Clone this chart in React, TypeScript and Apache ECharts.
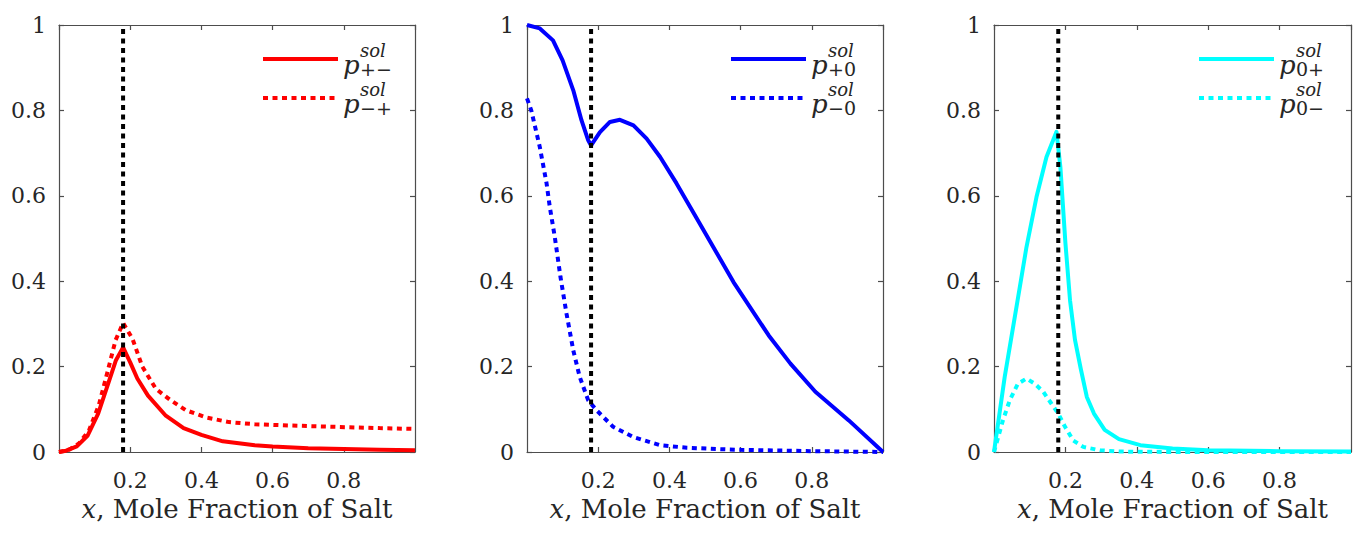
import React, { useEffect, useRef } from "react";
import * as echarts from "echarts";

// ---------- data ----------
const PHASE_X = 0.18;

const redSolidX = [0, 0.02, 0.05, 0.08, 0.11, 0.14, 0.16, 0.18, 0.2, 0.22, 0.25, 0.3, 0.35, 0.4, 0.46, 0.55, 0.6, 0.7, 0.8, 0.9, 1.0];
const redSolidY = [0, 0.003, 0.013, 0.038, 0.09, 0.165, 0.215, 0.245, 0.21, 0.172, 0.132, 0.085, 0.056, 0.04, 0.025, 0.016, 0.013, 0.009, 0.007, 0.005, 0.004];

const redDotX = [0, 0.03, 0.056, 0.084, 0.112, 0.136, 0.159, 0.18, 0.206, 0.234, 0.272, 0.314, 0.356, 0.413, 0.478, 0.55, 0.65, 0.77, 0.9, 1.0];
const redDotY = [0, 0.006, 0.02, 0.05, 0.11, 0.187, 0.262, 0.302, 0.266, 0.2, 0.148, 0.121, 0.098, 0.081, 0.07, 0.065, 0.062, 0.059, 0.056, 0.054];

const blueSolidX = [0, 0.036, 0.073, 0.1, 0.13, 0.153, 0.172, 0.18, 0.205, 0.233, 0.261, 0.299, 0.336, 0.374, 0.42, 0.477, 0.58, 0.679, 0.74, 0.81, 0.904, 1.0];
const blueSolidY = [1.0, 0.992, 0.964, 0.917, 0.847, 0.777, 0.73, 0.718, 0.749, 0.773, 0.778, 0.765, 0.734, 0.691, 0.629, 0.547, 0.398, 0.273, 0.207, 0.141, 0.074, 0.0];

const blueDotX = [0, 0.012, 0.036, 0.055, 0.064, 0.078, 0.094, 0.111, 0.13, 0.148, 0.172, 0.195, 0.242, 0.299, 0.374, 0.449, 0.533, 0.6, 0.8, 1.0];
const blueDotY = [0.828, 0.8, 0.714, 0.629, 0.574, 0.504, 0.41, 0.324, 0.238, 0.176, 0.121, 0.098, 0.059, 0.035, 0.016, 0.01, 0.007, 0.005, 0.002, 0.0];

const cyanSolidX = [0, 0.03, 0.063, 0.091, 0.119, 0.147, 0.175, 0.186, 0.2, 0.213, 0.227, 0.243, 0.26, 0.28, 0.31, 0.35, 0.41, 0.5, 0.6, 0.8, 1.0];
const cyanSolidY = [0, 0.176, 0.34, 0.48, 0.597, 0.691, 0.75, 0.667, 0.49, 0.355, 0.262, 0.195, 0.129, 0.09, 0.052, 0.03, 0.016, 0.008, 0.004, 0.002, 0.001];

const cyanDotX = [0, 0.025, 0.044, 0.067, 0.091, 0.114, 0.138, 0.161, 0.18, 0.199, 0.222, 0.25, 0.297, 0.35, 0.5, 1.0];
const cyanDotY = [0, 0.074, 0.121, 0.16, 0.172, 0.16, 0.141, 0.113, 0.09, 0.059, 0.027, 0.012, 0.004, 0.001, 0, 0];

const panelColors = ["#ff0000", "#0000ff", "#00ffff"];
const solidSubs = ["+\u2212", "+0", "0+"];
const dotSubs = ["\u2212+", "\u22120", "0\u2212"];
const xTitleRest = ", Mole Fraction of Salt";

// ---------- layout / style ----------
const FONT = "DejaVu Serif";
const TXT = "#262626";
const AX = "#4d4d4d";
const grids = [
  { left: 59, top: 25, width: 356, height: 427 },
  { left: 527, top: 25, width: 356, height: 427 },
  { left: 994, top: 25, width: 357, height: 427 },
];
const DOT = [5, 4.5];

const pairs = (xs: number[], ys: number[]) => xs.map((x, i) => [x, ys[i]]);

export default function App() {
  const ref = useRef<HTMLDivElement>(null);
  useEffect(() => {
    if (!ref.current) return;
    const chart = echarts.init(ref.current, undefined, { renderer: "svg" });

    const panels = [
      { solid: pairs(redSolidX, redSolidY), dot: pairs(redDotX, redDotY) },
      { solid: pairs(blueSolidX, blueSolidY), dot: pairs(blueDotX, blueDotY) },
      { solid: pairs(cyanSolidX, cyanSolidY), dot: pairs(cyanDotX, cyanDotY) },
    ];

    const xAxis: any[] = [];
    const yAxis: any[] = [];
    const series: any[] = [];
    const graphic: any[] = [];

    panels.forEach((p, i) => {
      const axisLine = { show: true, onZero: false, lineStyle: { color: AX, width: 1.2 } };
      const axisTick = { show: true, inside: true, length: 5, lineStyle: { color: AX, width: 1.2 } };
      xAxis.push({
        gridIndex: i, type: "value", min: 0, max: 1, interval: 0.2, position: "bottom",
        axisLine, axisTick, splitLine: { show: false },
        axisLabel: { showMinLabel: false, showMaxLabel: false, fontSize: 22, fontFamily: FONT, color: TXT, margin: 17 },
        name: "{i|x}{r|" + xTitleRest + "}", nameLocation: "middle", nameGap: 40,
        nameTextStyle: {
          fontSize: 26, fontFamily: FONT, color: TXT,
          rich: {
            i: { fontSize: 26, fontFamily: FONT, color: TXT, fontStyle: "italic" },
            r: { fontSize: 26, fontFamily: FONT, color: TXT },
          },
        },
      });
      xAxis.push({
        gridIndex: i, type: "value", min: 0, max: 1, interval: 0.2, position: "top",
        axisLine, axisTick, splitLine: { show: false }, axisLabel: { show: false },
      });
      yAxis.push({
        gridIndex: i, type: "value", min: 0, max: 1, interval: 0.2, position: "left",
        axisLine, axisTick, splitLine: { show: false },
        axisLabel: { fontSize: 22, fontFamily: FONT, color: TXT, margin: 13 },
      });
      yAxis.push({
        gridIndex: i, type: "value", min: 0, max: 1, interval: 0.2, position: "right",
        axisLine, axisTick, splitLine: { show: false }, axisLabel: { show: false },
      });
      const c = panelColors[i];
      series.push({
        name: "p_" + solidSubs[i], type: "line", xAxisIndex: 2 * i, yAxisIndex: 2 * i,
        data: p.solid, symbol: "none", smooth: false,
        lineStyle: { color: c, width: 4, join: "round" }, itemStyle: { color: c }, z: 2,
      });
      series.push({
        name: "p_" + dotSubs[i], type: "line", xAxisIndex: 2 * i, yAxisIndex: 2 * i,
        data: p.dot, symbol: "none", smooth: false,
        lineStyle: { color: c, width: 4, type: DOT, cap: "butt" }, itemStyle: { color: c }, z: 2,
      });
      series.push({
        name: "phase" + i, type: "line", xAxisIndex: 2 * i, yAxisIndex: 2 * i,
        data: [[PHASE_X, 0], [PHASE_X, 1]], symbol: "none",
        lineStyle: { color: "#000", width: 4, type: DOT, cap: "butt" }, z: 3,
      });

      // legend (drawn as graphics so the stacked super/subscripts can be reproduced)
      const R = grids[i].left + grids[i].width;
      [0, 1].forEach((k) => {
        const yy = 59 + 39 * k;
        graphic.push({
          type: "line", shape: { x1: R - 152, y1: yy, x2: R - 77, y2: yy },
          style: k === 0 ? { stroke: c, lineWidth: 4 } : { stroke: c, lineWidth: 4, lineDash: DOT },
        });
        graphic.push({
          type: "text", x: R - 72, y: yy + 6,
          style: { text: "p", fontFamily: FONT, fontSize: 26, fontStyle: "italic", fill: TXT, verticalAlign: "middle", align: "left" },
        });
        graphic.push({
          type: "text", x: R - 55, y: yy - 9,
          style: { text: "sol", fontFamily: FONT, fontSize: 18, fontStyle: "italic", fill: TXT, verticalAlign: "middle", align: "left" },
        });
        graphic.push({
          type: "text", x: R - 55, y: yy + 10,
          style: { text: k === 0 ? solidSubs[i] : dotSubs[i], fontFamily: FONT, fontSize: 19, fill: TXT, verticalAlign: "middle", align: "left" },
        });
      });
    });

    chart.setOption({
      animation: false,
      backgroundColor: "#ffffff",
      grid: grids,
      xAxis, yAxis, series, graphic,
    });
    return () => chart.dispose();
  }, []);
  return <div ref={ref} style={{ position: "absolute", left: 0, top: 0, width: 1361, height: 535 }} />;
}
